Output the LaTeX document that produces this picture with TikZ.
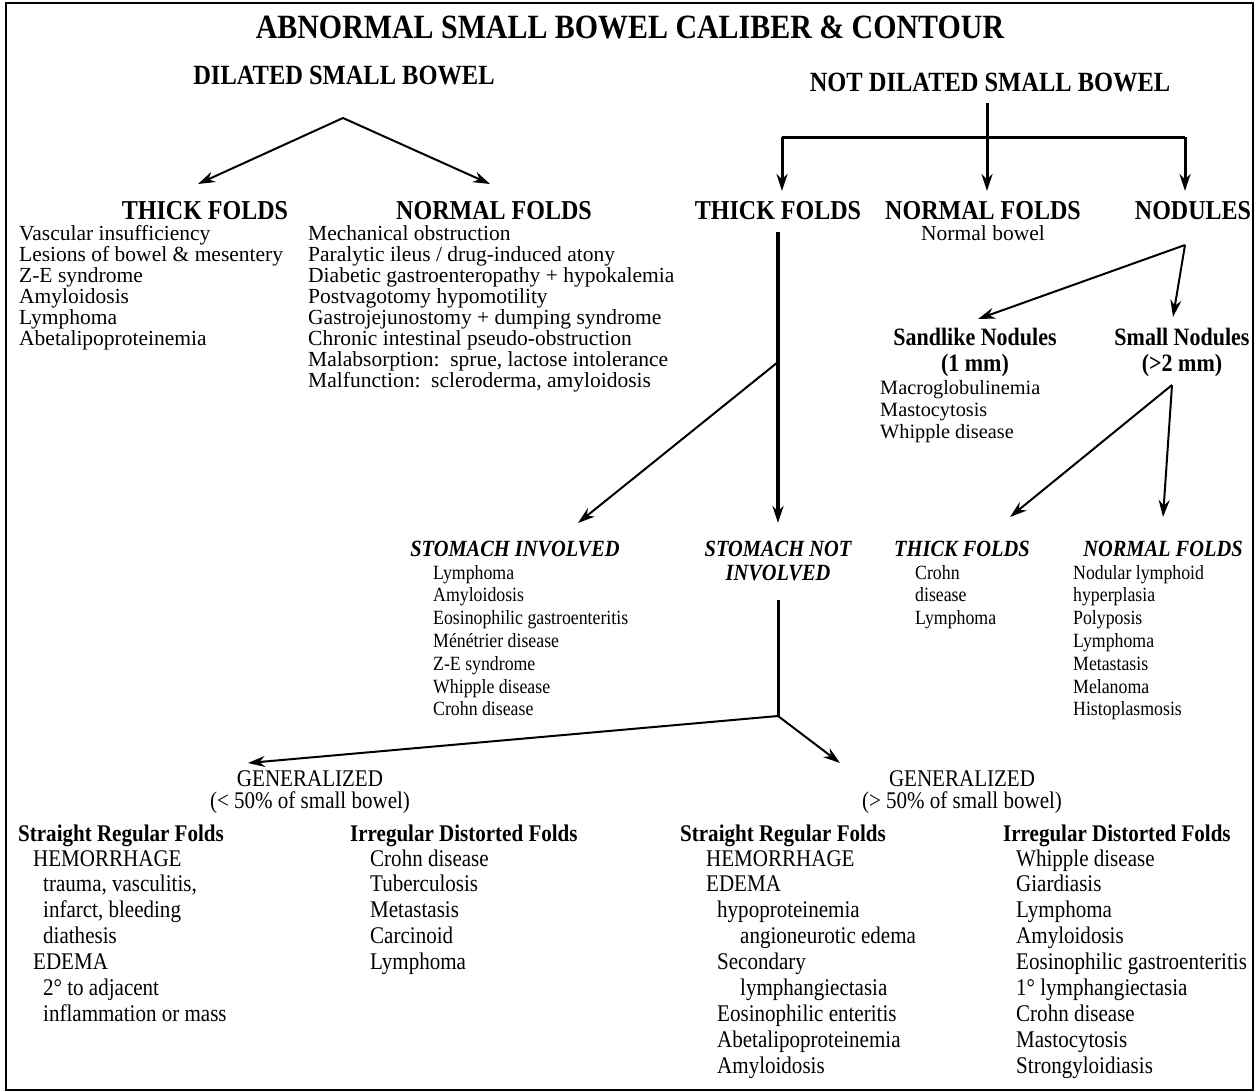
\documentclass[tikz,border=0pt]{standalone}
\usepackage{fontspec}
\setmainfont{Liberation Serif}[FakeStretch=0.88]
\newfontfamily\wideserif{Liberation Serif}
\usetikzlibrary{arrows.meta}
\newcommand\setfs[1]{\fontsize{#1}{#1}\selectfont}

\begin{document}
\begin{tikzpicture}[x=1pt,y=-1pt,
  ctr/.style={inner sep=0pt, anchor=base},
  lft/.style={inner sep=0pt, anchor=base west},
  titlefont/.style={font=\bfseries\setfs{34}},
  h1/.style={ctr, font=\bfseries\setfs{27.8}},
  h2/.style={ctr, font=\bfseries\setfs{27.3}},
  toplist/.style={lft, font=\wideserif\setfs{21.5}},
  nodhead/.style={ctr, font=\bfseries\setfs{25}},
  nodlist/.style={lft, font=\wideserif\setfs{20.3}},
  h3/.style={ctr, font=\bfseries\itshape\setfs{23.2}},
  midlist/.style={lft, font=\setfs{20.2}},
  gen/.style={ctr, font=\setfs{23.9}},
  bhead/.style={lft, font=\bfseries\setfs{23.9}},
  blist/.style={lft, font=\setfs{23.9}},
  tip/.style={-{Stealth[length=17pt,width=11pt]}},
  thin/.style={line width=2pt},
  mid/.style={line width=3pt},
  heavy/.style={line width=4.5pt},
]
\useasboundingbox (0,0) rectangle (1258,1092);
\draw[line width=2pt] (6,3) rectangle (1253,1090);

% headings
\node[ctr, titlefont] (title) at (630,38) {ABNORMAL SMALL BOWEL CALIBER \& CONTOUR};
\node[h1] (dil) at (344,84) {DILATED SMALL BOWEL};
\node[h1] (notdil) at (990,91) {NOT DILATED SMALL BOWEL};

% dilated branch
\coordinate (dilA) at (343,118);
\coordinate (dilTk) at (198,184);
\coordinate (dilNm) at (490,184);
\draw[thin, tip] (dilA) -- (dilTk);
\draw[thin, tip] (dilA) -- (dilNm);

\node[h2] (tkL) at (205,219) {THICK FOLDS};
\node[h2] (nmL) at (494,219) {NORMAL FOLDS};
\foreach [count=\i from 0] \t in {Vascular insufficiency, Lesions of bowel \& mesentery, Z-E syndrome, Amyloidosis, Lymphoma, Abetalipoproteinemia}
  \node[toplist] (tkL\i) at (19,240+21*\i) {\t};
\foreach [count=\i from 0] \t in {Mechanical obstruction, Paralytic ileus / drug-induced atony, Diabetic gastroenteropathy + hypokalemia, Postvagotomy hypomotility, Gastrojejunostomy + dumping syndrome, Chronic intestinal pseudo-obstruction, {Malabsorption:\ \ sprue, lactose intolerance}, {Malfunction:\ \ scleroderma, amyloidosis}}
  \node[toplist] (nmL\i) at (308,240+21*\i) {\t};

% not dilated branch
\coordinate (ndTop) at (987,103);
\coordinate (barL) at (782,137);
\coordinate (barR) at (1185,137);
\coordinate (ndTk) at (782,191);
\coordinate (ndNm) at (987,191);
\coordinate (ndNo) at (1185,191);
\draw[mid] (barL) -- (barR);
\draw[mid, tip] (ndTop) -- (ndNm);
\draw[mid, tip] (barL) -- (ndTk);
\draw[mid, tip] (barR) -- (ndNo);

\node[h2] (tkR) at (778,219) {THICK FOLDS};
\node[h2] (nmR) at (983,219) {NORMAL FOLDS};
\node[h2] (nod) at (1193,219) {NODULES};
\node[ctr, font=\wideserif\setfs{21.5}] (nbowel) at (983,240) {Normal bowel};

% nodules
\coordinate (nodA) at (1185,245);
\coordinate (nodS) at (978,319);
\coordinate (nodM) at (1173,317);
\draw[thin, tip] (nodA) -- (nodS);
\draw[thin, tip] (nodA) -- (nodM);
\node[nodhead] (sand) at (975,345) {Sandlike Nodules};
\node[nodhead] (sand2) at (975,371) {(1 mm)};
\node[nodhead] (small) at (1182,345) {Small Nodules};
\node[nodhead] (small2) at (1182,371) {(>2 mm)};
\foreach [count=\i from 0] \t in {Macroglobulinemia, Mastocytosis, Whipple disease}
  \node[nodlist] (sandL\i) at (880,394+22*\i) {\t};

\coordinate (smA) at (1172,385);
\coordinate (smTk) at (1010,517);
\coordinate (smNm) at (1163,517);
\draw[thin, tip] (smA) -- (smTk);
\draw[thin, tip] (smA) -- (smNm);

% thick folds branch
\coordinate (tkTop) at (778,232);
\coordinate (tkFork) at (778,362);
\coordinate (tkNot) at (778,523);
\coordinate (tkInv) at (578,523);
\draw[heavy, tip] (tkTop) -- (tkNot);
\draw[thin, tip] (tkFork) -- (tkInv);

\node[h3] (sInv) at (515,556) {STOMACH INVOLVED};
\node[h3] (sNot) at (778,556) {STOMACH NOT};
\node[h3] (sNot2) at (778,580) {INVOLVED};
\node[h3] (tkI) at (962,556) {THICK FOLDS};
\node[h3] (nmI) at (1163,556) {NORMAL FOLDS};
\foreach [count=\i from 0] \t in {Lymphoma, Amyloidosis, Eosinophilic gastroenteritis, Ménétrier disease, Z-E syndrome, Whipple disease, Crohn disease}
  \node[midlist] (sInvL\i) at (433,579+22.8*\i) {\t};
\foreach [count=\i from 0] \t in {Crohn, disease, Lymphoma}
  \node[midlist] (tkIL\i) at (915,579+22.8*\i) {\t};
\foreach [count=\i from 0] \t in {Nodular lymphoid, hyperplasia, Polyposis, Lymphoma, Metastasis, Melanoma, Histoplasmosis}
  \node[midlist] (nmIL\i) at (1073,579+22.8*\i) {\t};

% extent of involvement
\coordinate (gTop) at (778,600);
\coordinate (gFork) at (778,716);
\coordinate (gLt) at (248,763);
\coordinate (gGt) at (840,763);
\draw[mid] (gTop) -- (gFork);
\draw[thin, tip] (gFork) -- (gLt);
\draw[thin, tip] (gFork) -- (gGt);

\node[gen] (genL) at (310,786) {GENERALIZED};
\node[gen] (genL2) at (310,808) {(< 50\% of small bowel)};
\node[gen] (genR) at (962,786) {GENERALIZED};
\node[gen] (genR2) at (962,808) {(> 50\% of small bowel)};

\node[bhead] (srL) at (18,841) {Straight Regular Folds};
\node[bhead] (idL) at (350,841) {Irregular Distorted Folds};
\node[bhead] (srR) at (680,841) {Straight Regular Folds};
\node[bhead] (idR) at (1003,841) {Irregular Distorted Folds};

\node[blist] (a0) at (33,866) {HEMORRHAGE};
\node[blist] (a1) at (43,891.9) {trauma, vasculitis,};
\node[blist] (a2) at (43,917.8) {infarct, bleeding};
\node[blist] (a3) at (43,943.7) {diathesis};
\node[blist] (a4) at (33,969.6) {EDEMA};
\node[blist] (a5) at (43,995.5) {2° to adjacent};
\node[blist] (a6) at (43,1021.4) {inflammation or mass};

\foreach [count=\i from 0] \t in {Crohn disease, Tuberculosis, Metastasis, Carcinoid, Lymphoma}
  \node[blist] (bL\i) at (370,866+25.9*\i) {\t};

\node[blist] (c0) at (706,866) {HEMORRHAGE};
\node[blist] (c1) at (706,891.9) {EDEMA};
\node[blist] (c2) at (717,917.8) {hypoproteinemia};
\node[blist] (c3) at (740,943.7) {angioneurotic edema};
\node[blist] (c4) at (717,969.6) {Secondary};
\node[blist] (c5) at (740,995.5) {lymphangiectasia};
\node[blist] (c6) at (717,1021.4) {Eosinophilic enteritis};
\node[blist] (c7) at (717,1047.3) {Abetalipoproteinemia};
\node[blist] (c8) at (717,1073.2) {Amyloidosis};

\foreach [count=\i from 0] \t in {Whipple disease, Giardiasis, Lymphoma, Amyloidosis, Eosinophilic gastroenteritis, 1° lymphangiectasia, Crohn disease, Mastocytosis, Strongyloidiasis}
  \node[blist] (dL\i) at (1016,866+25.9*\i) {\t};
\end{tikzpicture}
\end{document}
